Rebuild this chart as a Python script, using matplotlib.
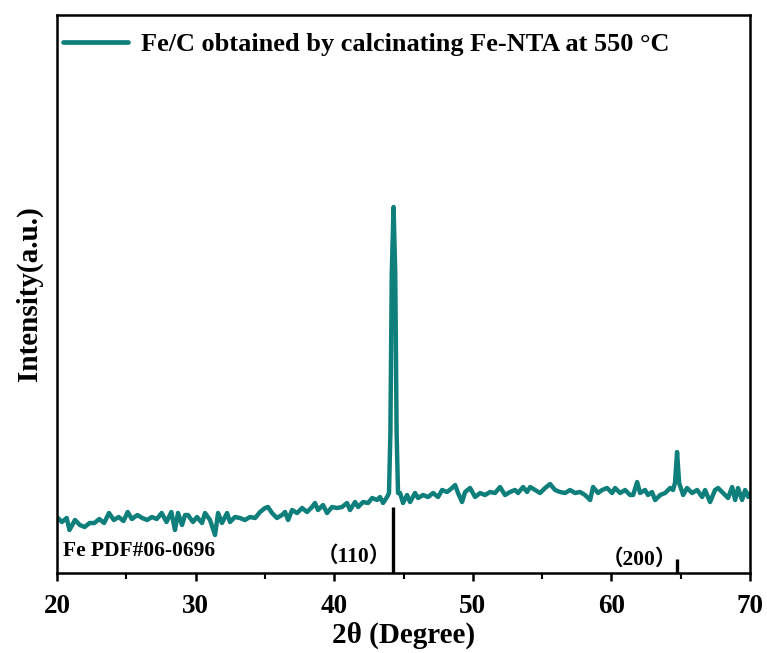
import matplotlib
matplotlib.use("Agg")
import matplotlib.pyplot as plt
from matplotlib.ticker import MultipleLocator

# ---- data (intensity in arbitrary units) ----
two_theta = [
    20.0, 20.35, 20.7, 20.9, 21.3, 21.65, 22.0, 22.35, 22.7, 23.05, 23.4, 23.75, 24.1, 24.45,
    24.8, 25.1, 25.4, 25.8, 26.15, 26.5, 26.85, 27.2, 27.55, 27.9, 28.25,
    28.51, 28.73, 29.02, 29.24, 29.45, 29.81, 30.10, 30.46, 30.68, 31.04, 31.40, 31.62, 31.90,
    32.27, 32.48, 32.84, 33.20, 33.56, 33.92, 34.29, 34.65, 35.01, 35.22, 35.51, 35.87, 36.23,
    36.45, 36.67, 36.96, 37.32, 37.68, 38.04, 38.40, 38.61, 38.83, 39.19, 39.48, 39.84, 40.20,
    40.56, 40.92, 41.14, 41.50, 41.72, 42.08, 42.44, 42.73, 43.09, 43.30, 43.52, 43.81,
    43.95, 44.05, 44.15, 44.28, 44.40, 44.50, 44.60,
    44.75, 44.96, 45.25, 45.47, 45.83, 46.05, 46.41, 46.77, 47.13, 47.49, 47.78, 48.14, 48.50,
    48.72, 48.93, 49.22, 49.44, 49.80, 50.16, 50.52, 50.88, 51.24, 51.60, 51.96, 52.32, 52.68,
    53.04, 53.26, 53.62, 53.91, 54.13, 54.49, 54.85, 55.21, 55.57, 55.93, 56.29, 56.65, 57.01,
    57.37, 57.73, 58.09, 58.46, 58.67, 59.03, 59.32, 59.68, 60.04, 60.26, 60.62, 60.98, 61.34,
    61.56, 61.85, 62.06, 62.42, 62.63, 62.92, 63.15, 63.51, 63.87, 64.23, 64.44,
    64.58, 64.73, 64.88, 65.00, 65.17, 65.45, 65.81, 66.18, 66.54, 66.75, 67.11, 67.47,
    67.69, 68.05, 68.41, 68.70, 68.92, 69.13, 69.42, 69.64, 69.86, 70.0,
]
intensity = [
    56, 51, 55, 43, 53, 48, 46, 50, 50, 54, 50, 60, 53, 56,
    52, 61, 54, 58, 55, 53, 56, 54, 60, 51, 61,
    43, 60, 48, 58, 58, 51, 56, 50, 60, 53, 38, 60, 50,
    60, 51, 56, 55, 53, 56, 55, 61, 65, 66, 60, 55, 58,
    61, 53, 63, 60, 65, 61, 66, 70, 63, 68, 60, 66, 65,
    66, 70, 63, 71, 66, 71, 70, 75, 73, 76, 70, 76,
    80, 140, 300, 366, 300, 140, 80,
    80, 70, 78, 71, 80, 75, 78, 76, 80, 76, 83, 81, 85,
    88, 80, 71, 81, 85, 76, 80, 78, 81, 80, 86, 78, 81,
    83, 80, 86, 81, 86, 83, 80, 85, 89, 83, 81, 80, 83,
    80, 81, 78, 73, 86, 80, 83, 85, 80, 85, 80, 83, 78,
    78, 91, 80, 83, 78, 81, 73, 78, 80, 85, 83,
    90, 121, 90, 85, 78, 85, 80, 83, 76, 83, 71, 83,
    85, 80, 75, 86, 73, 85, 73, 83, 76, 80,
]

# standard reference (Fe PDF#06-0696)
ref_pos = [44.24, 64.73]
ref_height = [66, 14]
ref_labels = ["（110）", "（200）"]
ref_label_x = [41.4, 62.0]
ref_label_y = [17, 13]

series_label = "Fe/C obtained by calcinating Fe-NTA at 550 °C"
x_label = "2θ (Degree)"
y_label = "Intensity(a.u.)"
xticks = [20, 30, 40, 50, 60, 70]

# ---- plot ----
serif = ["Liberation Serif", "Noto Sans CJK SC", "DejaVu Serif"]
plt.rcParams["font.family"] = serif
plt.rcParams["font.weight"] = "bold"

fig = plt.figure(figsize=(7.67, 6.53), dpi=100)
ax = fig.add_axes([0.0743, 0.1225, 0.9037, 0.8545])

color = "#0f7f7b"
ax.plot(two_theta, intensity, color=color, lw=3.2, label=series_label,
        solid_joinstyle="round", solid_capstyle="round")

ax.vlines(ref_pos, 0, ref_height, color="black", lw=2.4)
for lx, ly, lt in zip(ref_label_x, ref_label_y, ref_labels):
    ax.text(lx, ly, lt, ha="center", va="center", fontsize=15.5, fontweight="bold",
            family=serif)
ax.text(20.4, 22, "Fe PDF#06-0696", ha="left", va="center", fontsize=15.5,
        fontweight="bold")

ax.set_xlim(20, 70)
ax.set_ylim(0, 558)
ax.set_xticks(xticks)
ax.xaxis.set_minor_locator(MultipleLocator(5))
ax.set_yticks([])
ax.tick_params(axis="x", which="major", direction="out", length=6, width=1.8,
               labelsize=19.5, pad=9)
ax.tick_params(axis="x", which="minor", direction="out", length=4, width=1.5)
for lab in ax.get_xticklabels():
    lab.set_fontweight("bold")
for s in ax.spines.values():
    s.set_linewidth(1.8)

ax.set_xlabel(x_label, fontsize=21, fontweight="bold", labelpad=2)
ax.set_ylabel(y_label, fontsize=21, fontweight="bold", labelpad=10)

leg = ax.legend(loc="center left", bbox_to_anchor=(0.008, 0.948), frameon=False,
                handlelength=2.5, prop={"family": serif, "weight": "bold", "size": 18.9},
                borderaxespad=0.0, borderpad=0.0, handletextpad=0.5)
for h in leg.get_lines():
    h.set_linewidth(3.4)

fig.savefig("out.png", dpi=100)
